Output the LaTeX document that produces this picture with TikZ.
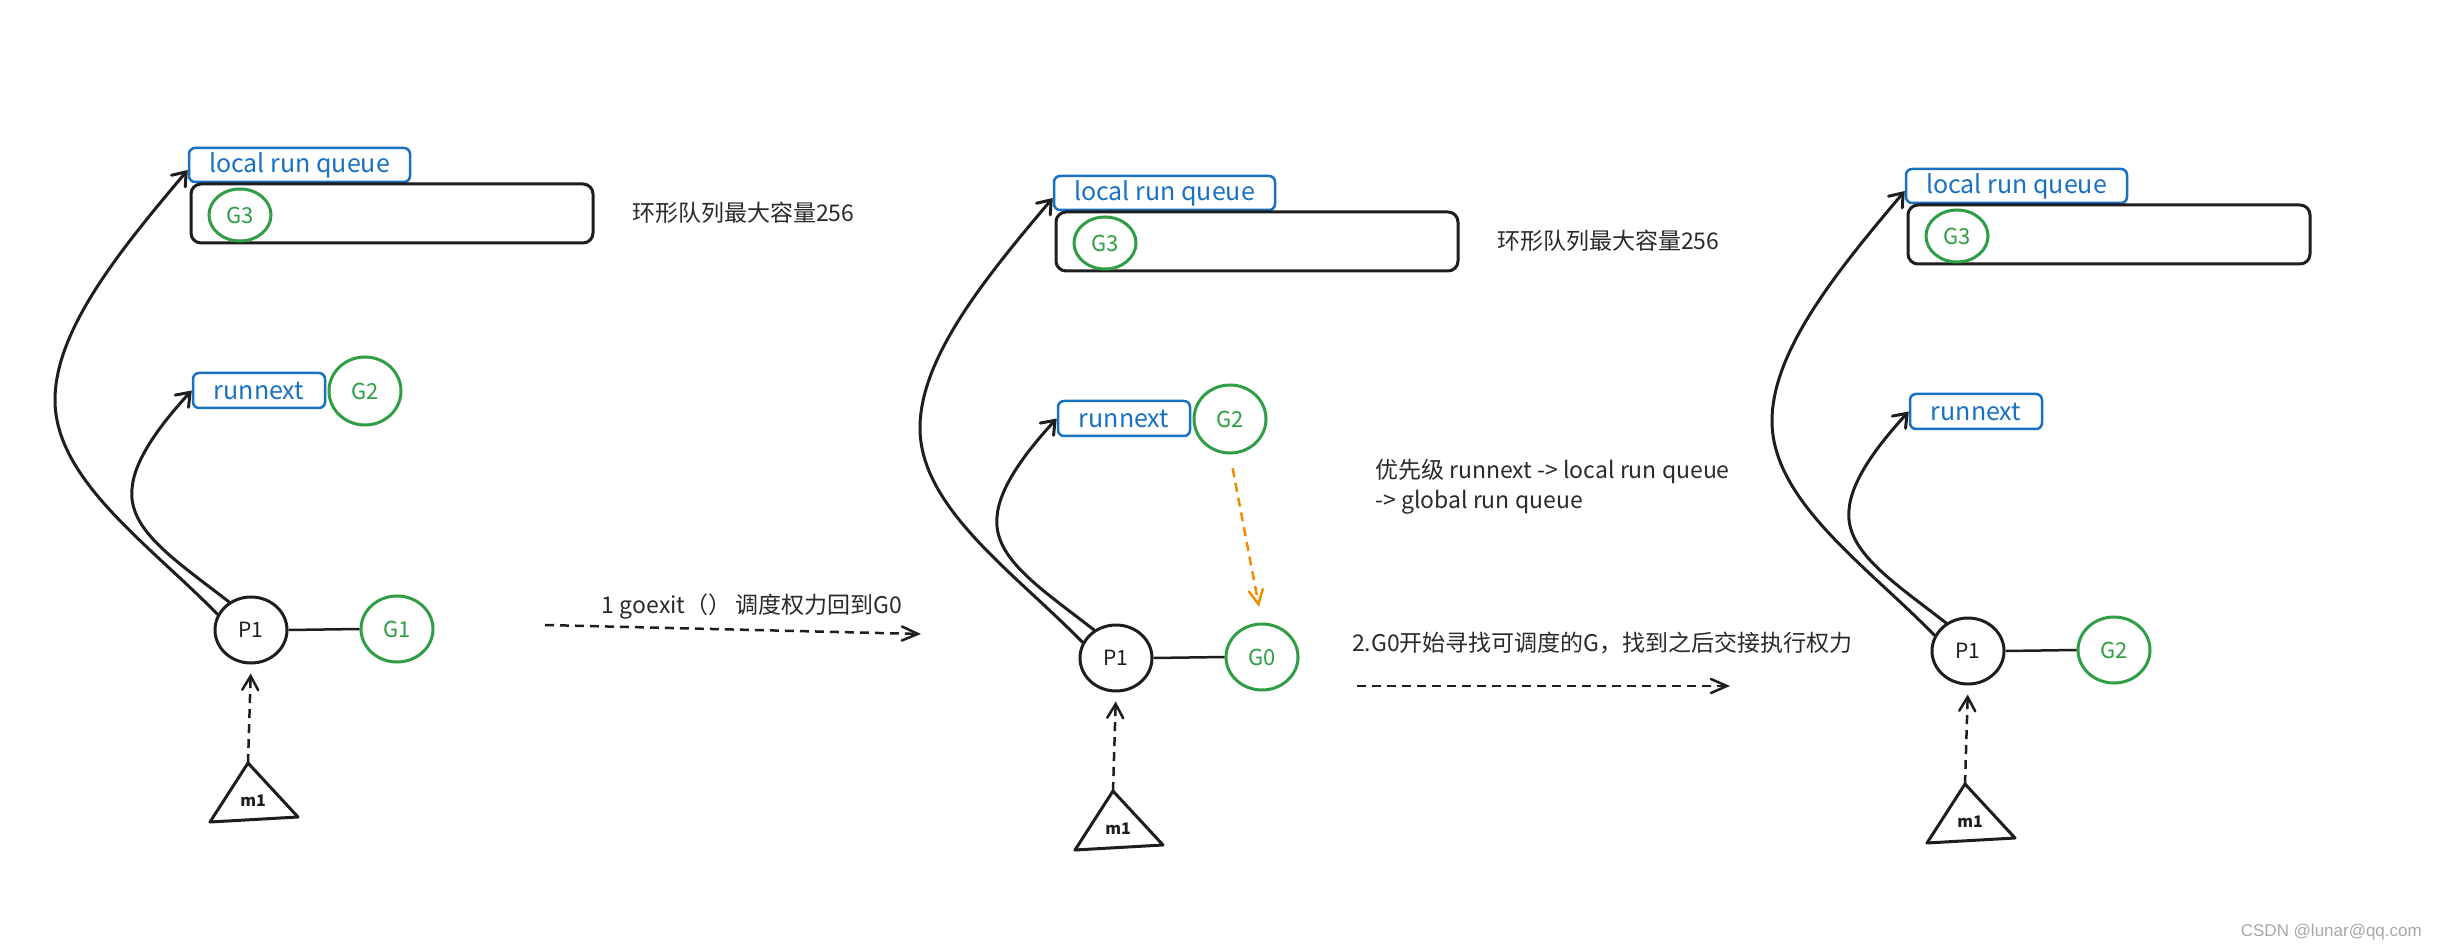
\documentclass[tikz,border=0pt]{standalone}
\usepackage{fontspec}
\setmainfont{Noto Sans CJK SC}
\newfontfamily\wmfont{Liberation Sans}
\usetikzlibrary{arrows.meta,shapes.geometric}
\definecolor{exblue}{HTML}{1971C2}
\definecolor{exgreen}{HTML}{2F9E44}
\definecolor{exorange}{HTML}{F08C00}
\definecolor{exink}{HTML}{1E1E1E}
\definecolor{captink}{HTML}{2A2A2A}
\definecolor{wmgray}{HTML}{A8A8A8}
\tikzset{
  lbl/.style={draw=exblue, line width=2.5pt, rounded corners=6pt, text=exblue, inner sep=0pt, font=\fontsize{25}{28}\selectfont},
  qbox/.style={draw=exink, line width=3pt, rounded corners=10pt, inner sep=0pt, minimum width=402pt, minimum height=59pt},
  gnode/.style={ellipse, draw=exgreen, line width=3pt, text=exgreen, inner sep=0pt, font=\fontsize{22}{24}\selectfont},
  pnode/.style={ellipse, draw=exink, line width=3pt, text=exink, inner sep=0pt, minimum width=72pt, minimum height=66pt, font=\fontsize{21}{24}\selectfont},
  glink/.style={draw=exink, line width=2.5pt},
  mtri/.style={draw=exink, line width=3pt, line join=round, line cap=round},
  mtext/.style={text=exink, inner sep=0pt, font=\fontsize{16}{18}\selectfont\bfseries},
  curvearrow/.style={draw=exink, line width=3pt, line cap=round, -{Straight Barb[length=12pt,width=18pt,line cap=round]}},
  updash/.style={draw=exink, line width=2.5pt, dash pattern=on 9pt off 6pt, shorten >=9pt, -{Straight Barb[length=14pt,width=16pt,line cap=round]}},
  hdash/.style={draw=exink, line width=2.5pt, dash pattern=on 9pt off 6pt, -{Straight Barb[length=16pt,width=14pt,line cap=round]}},
  odash/.style={draw=exorange, line width=2.5pt, dash pattern=on 9pt off 6pt, shorten <=14pt, shorten >=16pt, -{Straight Barb[length=14pt,width=14pt,line cap=round]}},
  captext/.style={text=captink, inner sep=0pt, font=\fontsize{23}{30}\selectfont},
}
\newcommand\gopanel[2]{%
\begin{scope}[shift={#2}]
  \node[lbl, minimum width=221pt, minimum height=34pt] (lrq#1) at (299.5,165) {local run queue};
  \node[qbox] (q#1) at (392,213.5) {};
  \node[gnode, minimum width=62pt, minimum height=52pt] (gthree#1) at (240,215) {G3};
  \node[lbl, minimum width=132pt, minimum height=35pt] (rn#1) at (259,390.5) {runnext};
  \node[pnode] (p#1) at (251,630) {P1};
  \coordinate (apex#1) at (248,763);
  \coordinate (bl#1) at (210,822);
  \coordinate (br#1) at (298,817);
  \draw[mtri] (apex#1) -- (br#1) -- (bl#1) -- cycle;
  \node[mtext] (m#1) at (253,801) {m1};
  \draw[updash] (apex#1) -- (p#1.south);
  \draw[curvearrow] (p#1.155) .. controls (150,545) and (55,480) .. (55,400) .. controls (55,330) and (120,250) .. ([yshift=-5pt]lrq#1.west);
  \draw[curvearrow] (p#1.128) .. controls (175,560) and (128,530) .. (132,489) .. controls (134,460) and (160,425) .. (rn#1.west);
\end{scope}}
\begin{document}
\begin{tikzpicture}[x=1pt,y=-1pt]
  \fill[white] (0,0) rectangle (2437,949);
  \useasboundingbox (0,0) rectangle (2437,949);
  % panel 1
  \gopanel{a}{(0,0)}
  \node[gnode, minimum width=72pt, minimum height=68pt] (gtwoa) at (365,391) {G2};
  \node[gnode, minimum width=72pt, minimum height=66pt] (gonea) at (397,629) {G1};
  \draw[glink] (pa.east) -- (gonea.west);
  \node[captext, anchor=west] (capa) at (632,213) {环形队列最大容量256};
  % transition 1
  \coordinate (sa) at (545,625);
  \coordinate (ea) at (921,634);
  \draw[hdash] (sa) -- (ea);
  \node[captext] (stepone) at (752,607) {1 goexit（）\hspace{4pt}调度权力回到G0};
  % panel 2
  \gopanel{b}{(865,28)}
  \node[gnode, minimum width=72pt, minimum height=68pt] (gtwob) at (1230,419) {G2};
  \node[gnode, minimum width=72pt, minimum height=66pt] (gzerob) at (1262,657) {G0};
  \draw[glink] (pb.east) -- (gzerob.west);
  \draw[odash] (gtwob.south) -- (gzerob.north);
  \node[captext, anchor=west] (capb) at (1497,241) {环形队列最大容量256};
  \node[captext, anchor=west, align=left] (prio) at (1375,487) {优先级 runnext -> local run queue\\-> global run queue};
  % transition 2
  \node[captext, anchor=west] (steptwo) at (1352,643) {2.G0开始寻找可调度的G，找到之后交接执行权力};
  \coordinate (sb) at (1357,686);
  \coordinate (eb) at (1730,686);
  \draw[hdash] (sb) -- (eb);
  % panel 3
  \gopanel{c}{(1717,21)}
  \node[gnode, minimum width=72pt, minimum height=66pt] (gtwoc) at (2114,650) {G2};
  \draw[glink] (pc.east) -- (gtwoc.west);
  % watermark
  \node[text=wmgray, anchor=east, inner sep=0pt, font=\wmfont\fontsize{17}{20}\selectfont] (wm) at (2422,932) {CSDN @lunar@qq.com};
\end{tikzpicture}
\end{document}
